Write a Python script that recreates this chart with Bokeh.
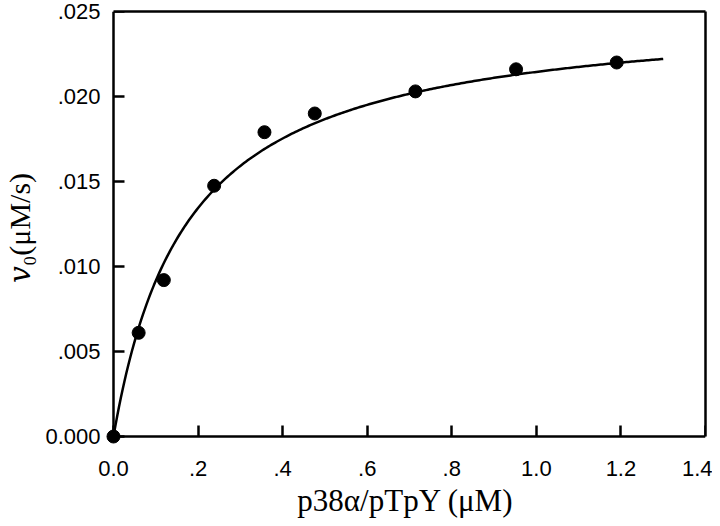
import numpy as np
from bokeh.plotting import figure
from bokeh.models import ColumnDataSource, FixedTicker, Range1d, LinearAxis
from bokeh.embed import file_html
from bokeh.resources import INLINE

# data: p38a/pTpY concentration (uM) vs initial velocity v0 (uM/s)
conc = [0.0, 0.0595, 0.119, 0.238, 0.357, 0.476, 0.714, 0.952, 1.19]
v0 = [0.0, 0.0061, 0.0092, 0.01475, 0.0179, 0.0190, 0.0203, 0.0216, 0.0220]

# Michaelis-Menten fit parameters
vmax = 0.0252
km = 0.175
fit_end = 1.3

x_ticks = [0.0, 0.2, 0.4, 0.6, 0.8, 1.0, 1.2, 1.4]
x_tick_labels = ["0.0", ".2", ".4", ".6", ".8", "1.0", "1.2", "1.4"]
y_ticks = [0.0, 0.005, 0.010, 0.015, 0.020, 0.025]
y_tick_labels = ["0.000", ".005", ".010", ".015", ".020", ".025"]

xs = np.linspace(0, fit_end, 300)
fit = vmax * xs / (km + xs)

# small padding so the marker at the origin is not clipped by the frame
pad_x = 0.0189
pad_y = 0.00047

p = figure(width=712, height=526, output_backend="svg", toolbar_location=None,
           x_range=Range1d(x_ticks[0] - pad_x, x_ticks[-1]),
           y_range=Range1d(y_ticks[0] - pad_y, y_ticks[-1]),
           min_border_left=104, min_border_right=7, min_border_top=11, min_border_bottom=82)
p.background_fill_color = "white"
p.border_fill_color = "white"
p.outline_line_color = None
p.xgrid.visible = False
p.ygrid.visible = False

p.line(xs, fit, line_color="black", line_width=2.5)
p.scatter(x="x", y="y", source=ColumnDataSource(dict(x=conc, y=v0)),
          size=13, color="black")

# label axes at the frame edges: tick labels and axis titles only
for ax, ticks, labels in ((p.xaxis[0], x_ticks, x_tick_labels), (p.yaxis[0], y_ticks, y_tick_labels)):
    ax.ticker = FixedTicker(ticks=ticks, minor_ticks=[])
    ax.major_label_overrides = {t: l for t, l in zip(ticks, labels)}
    ax.axis_line_color = None
    ax.major_tick_line_color = None
    ax.minor_tick_line_color = None
    ax.major_tick_in = 0
    ax.major_tick_out = 0
    ax.major_label_text_font = "Liberation Sans"
    ax.major_label_text_font_size = "22px"
    ax.major_label_text_color = "black"
    ax.axis_label_text_font = "Liberation Serif, DejaVu Serif"
    ax.axis_label_text_font_style = "normal"
    ax.axis_label_text_color = "black"
    ax.axis_label_text_font_size = "31px"

p.xaxis[0].major_label_standoff = 16
p.yaxis[0].major_label_standoff = 5
p.xaxis[0].axis_label = "p38α/pTpY (μM)"
p.yaxis[0].axis_label = "𝑣₀(μM/s)"
p.xaxis[0].axis_label_standoff = 4
p.yaxis[0].axis_label_standoff = 6
p.yaxis[0].axis_label_text_font_size = "30px"

# axis lines with inward ticks, placed at zero (no labels of their own)
def line_axis(ticks, place):
    ax = LinearAxis(ticker=FixedTicker(ticks=ticks, minor_ticks=[]),
                    bounds=(ticks[0], ticks[-1]), fixed_location=0)
    ax.axis_line_width = 2.5
    ax.axis_line_color = "black"
    ax.major_tick_in = 11
    ax.major_tick_out = 0
    ax.major_tick_line_width = 2.5
    ax.major_tick_line_color = "black"
    ax.minor_tick_line_color = None
    ax.major_label_text_font_size = "0px"
    ax.major_label_text_color = None
    ax.major_label_standoff = 0
    p.add_layout(ax, place)

line_axis(x_ticks, "below")
line_axis(y_ticks, "left")

# frame lines on top and right (no ticks)
for bounds, place in (((x_ticks[0], x_ticks[-1]), "above"), ((y_ticks[0], y_ticks[-1]), "right")):
    ax = LinearAxis(ticker=FixedTicker(ticks=[]), bounds=bounds)
    ax.axis_line_width = 2.5
    ax.axis_line_color = "black"
    ax.major_tick_line_color = None
    ax.minor_tick_line_color = None
    ax.major_label_text_font_size = "0px"
    ax.major_label_text_color = None
    p.add_layout(ax, place)

open("out.html", "w").write(file_html(p, INLINE))
